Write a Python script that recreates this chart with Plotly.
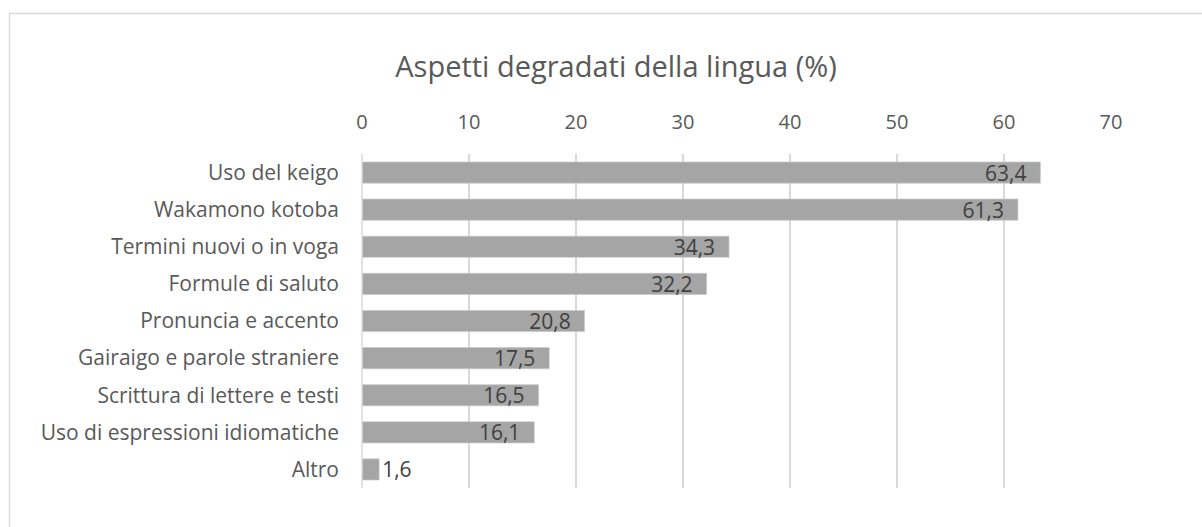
import plotly.graph_objects as go

categories = ["Uso del keigo", "Wakamono kotoba", "Termini nuovi o in voga", "Formule di saluto",
              "Pronuncia e accento", "Gairaigo e parole straniere", "Scrittura di lettere e testi",
              "Uso di espressioni idiomatiche", "Altro"]
values = [63.4, 61.3, 34.3, 32.2, 20.8, 17.5, 16.5, 16.1, 1.6]
tick_vals = [0, 10, 20, 30, 40, 50, 60, 70]
title_text = "Aspetti degradati della lingua (%)"

W, H = 1202, 527
L, R, T, B = 361.5, 1111.5, 154, 488

labels = [f"{v:.1f}".replace(".", ",") for v in values]
texts = [lab + "\u00a0\u00a0" if v > 5 else lab for lab, v in zip(labels, values)]
positions = ["inside" if v > 5 else "outside" for v in values]

FONT = "Open Sans"
FS_TICK = 20
FS_CAT = 21
FS_LBL = 21

fig = go.Figure(go.Bar(
    x=values, y=categories, orientation="h",
    marker=dict(color="#A5A5A5", line=dict(color="#C8C8C8", width=0.7)),
    text=texts, textposition=positions, insidetextanchor="end",
    textfont=dict(family=FONT, size=FS_LBL, color="#404040"),
    insidetextfont=dict(family=FONT, size=FS_LBL, color="#404040"),
    outsidetextfont=dict(family=FONT, size=FS_LBL, color="#404040"),
    cliponaxis=False, constraintext="none",
))

def px_to_paper_x(px):
    return (px - L) / (R - L)

def px_to_paper_y(py):
    return (B - py) / (B - T)

fig.update_layout(
    width=W, height=H,
    margin=dict(l=L, r=W - R, t=T, b=H - B, pad=0),
    paper_bgcolor="white", plot_bgcolor="white",
    bargap=0.43,
    showlegend=False,
    title=dict(text=title_text, x=616 / W, xanchor="center", y=1 - 67 / H, yanchor="middle",
               xref="container", yref="container",
               font=dict(family=FONT, size=29, color="#595959")),
    xaxis=dict(side="top", range=[0, 70], tickvals=tick_vals, showgrid=True,
               gridcolor="#D9D9D9", gridwidth=1.5, zeroline=False, showline=False,
               ticks="", ticklabelstandoff=20,
               tickfont=dict(family=FONT, size=FS_TICK, color="#595959")),
    yaxis=dict(categoryorder="array", categoryarray=categories, autorange="reversed",
               showgrid=False, zeroline=False, showline=False, ticks="",
               ticklabelstandoff=22,
               tickfont=dict(family=FONT, size=FS_CAT, color="#595959")),
    shapes=[
        dict(type="line", xref="paper", yref="paper", x0=0, x1=0, y0=0, y1=1,
             line=dict(color="#D9D9D9", width=1.5), layer="above"),
        dict(type="rect", xref="paper", yref="paper",
             x0=px_to_paper_x(8.5), x1=px_to_paper_x(1215), y0=px_to_paper_y(540), y1=px_to_paper_y(13.5),
             line=dict(color="#D9D9D9", width=1.3), fillcolor="rgba(0,0,0,0)", layer="below"),
    ],
)

fig.write_html("out.html")
